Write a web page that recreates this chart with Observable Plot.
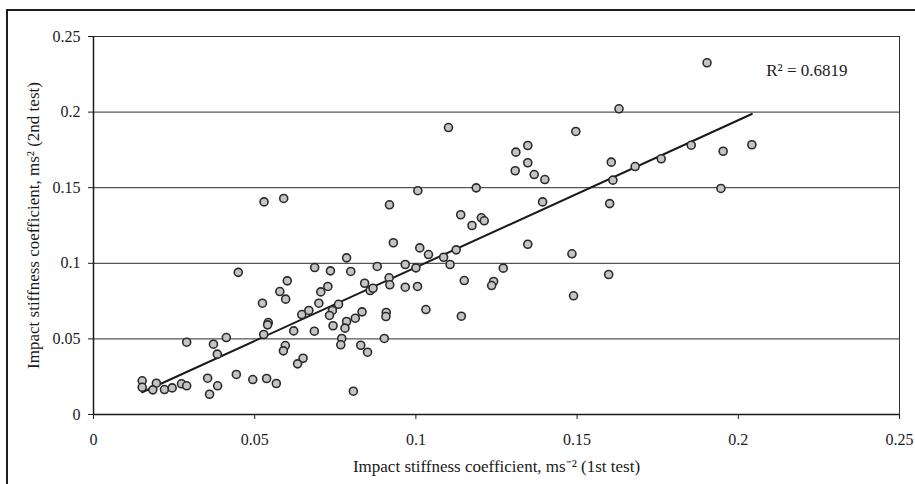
<!DOCTYPE html>
<html>
<head>
<meta charset="utf-8">
<script src="https://cdn.jsdelivr.net/npm/d3@7"></script>
<script src="https://cdn.jsdelivr.net/npm/@observablehq/plot@0.6"></script>
<style>
  html, body { margin: 0; padding: 0; background: #fff; overflow: hidden; }
  #wrap { position: relative; width: 915px; height: 484px; }
  #outer { position: absolute; left: 6px; top: 9px; width: 920px; height: 490px; border: 2px solid #1e1e1e; box-sizing: border-box; }
  #chart { position: absolute; left: 0; top: 0; }
</style>
</head>
<body>
<div id="wrap"><div id="outer"></div><div id="chart"></div></div>
<script>
// Impact stiffness coefficient, 1st test (x) and 2nd test (y)
const firstTest = [
  0.0151, 0.0151, 0.0195, 0.0184, 0.0220, 0.0244, 0.0273, 0.0289, 0.0289, 0.0354,
  0.0360, 0.0385, 0.0372, 0.0384, 0.0412, 0.0443, 0.0449, 0.0494, 0.0524, 0.0537,
  0.0567, 0.0542, 0.0540, 0.0528, 0.0529, 0.0590, 0.0601, 0.0578, 0.0596, 0.0595,
  0.0589, 0.0621, 0.0650, 0.0633, 0.0646, 0.0668, 0.0686, 0.0685, 0.0699, 0.0705,
  0.0727, 0.0735, 0.0741, 0.0732, 0.0743, 0.0760, 0.0785, 0.0798, 0.0785, 0.0780,
  0.0770, 0.0767, 0.0806, 0.0812, 0.0833, 0.0829, 0.0850, 0.0841, 0.0858, 0.0867,
  0.0880, 0.0902, 0.0908, 0.0907, 0.0917, 0.0919, 0.0918, 0.0930, 0.0967, 0.1000,
  0.0967, 0.1005, 0.1006, 0.1012, 0.1039, 0.1031, 0.1086, 0.1106, 0.1125, 0.1101,
  0.1139, 0.1141, 0.1150, 0.1174, 0.1187, 0.1203, 0.1212, 0.1241, 0.1235, 0.1271,
  0.1308, 0.1310, 0.1347, 0.1347, 0.1347, 0.1367, 0.1393, 0.1400, 0.1484, 0.1489,
  0.1496, 0.1598, 0.1601, 0.1606, 0.1611, 0.1630, 0.1680, 0.1761, 0.1854, 0.1903,
  0.1946, 0.1953, 0.2042
];
const secondTest = [
  0.0223, 0.0180, 0.0207, 0.0163, 0.0165, 0.0176, 0.0203, 0.0190, 0.0478, 0.0240,
  0.0134, 0.0190, 0.0465, 0.0399, 0.0509, 0.0265, 0.0940, 0.0231, 0.0736, 0.0238,
  0.0205, 0.0608, 0.0593, 0.0529, 0.1406, 0.1429, 0.0884, 0.0813, 0.0763, 0.0456,
  0.0421, 0.0553, 0.0372, 0.0335, 0.0661, 0.0688, 0.0972, 0.0551, 0.0736, 0.0811,
  0.0847, 0.0950, 0.0688, 0.0655, 0.0587, 0.0729, 0.1036, 0.0946, 0.0615, 0.0571,
  0.0503, 0.0461, 0.0154, 0.0637, 0.0679, 0.0458, 0.0412, 0.0868, 0.0820, 0.0835,
  0.0979, 0.0503, 0.0675, 0.0648, 0.0904, 0.0858, 0.1387, 0.1136, 0.0992, 0.0970,
  0.0842, 0.0847, 0.1480, 0.1102, 0.1058, 0.0694, 0.1040, 0.0992, 0.1089, 0.1898,
  0.1321, 0.0650, 0.0886, 0.1250, 0.1499, 0.1301, 0.1281, 0.0880, 0.0853, 0.0968,
  0.1612, 0.1735, 0.1779, 0.1665, 0.1126, 0.1587, 0.1406, 0.1554, 0.1063, 0.0785,
  0.1872, 0.0926, 0.1395, 0.1669, 0.1550, 0.2022, 0.1640, 0.1691, 0.1781, 0.2326,
  0.1495, 0.1741, 0.1784
];
const tickValues = [0, 0.05, 0.1, 0.15, 0.2, 0.25];
const tickLabels = ["0", "0.05", "0.1", "0.15", "0.2", "0.25"];
const xTitle = "Impact stiffness coefficient, ms\u207B\u00B2 (1st test)";
const yTitle = "Impact stiffness coefficient, ms\u00B2 (2nd test)";
const rSquaredText = "R\u00B2 = 0.6819";

const points = firstTest.map((x, i) => ({x, y: secondTest[i]}));
const fmt = d => tickLabels[tickValues.indexOf(d)];

// Trend line: least squares through the origin, spanning the data's x extent
const slope = d3.sum(points, p => p.x * p.y) / d3.sum(points, p => p.x * p.x);
const trend = d3.extent(firstTest).map(x => ({x, y: slope * x}));

const chart = Plot.plot({
  width: 915,
  height: 484,
  marginLeft: 93,
  marginRight: 16,
  marginTop: 36,
  marginBottom: 70,
  style: {fontFamily: "'Liberation Serif', 'Times New Roman', serif", fontSize: "16px", color: "#1a1a1a", background: "transparent"},
  x: {domain: [0, 0.25]},
  y: {domain: [0, 0.25]},
  marks: [
    Plot.ruleY(tickValues, {stroke: "#2a2a2a", strokeWidth: 1}),
    Plot.frame({stroke: "#333", strokeWidth: 1}),
    Plot.ruleX([0], {stroke: "#1a1a1a", strokeWidth: 1.5}),
    Plot.ruleY([0], {stroke: "#1a1a1a", strokeWidth: 1.5}),
    Plot.axisX({ticks: tickValues, tickFormat: fmt, tickSize: 5, tickPadding: 14, label: null, stroke: "#1a1a1a", fontSize: 16}),
    Plot.axisY({ticks: tickValues, tickFormat: fmt, tickSize: 5, tickPadding: 8, label: null, stroke: "#1a1a1a", fontSize: 16}),
    Plot.line(trend, {x: "x", y: "y", stroke: "#1a1a1a", strokeWidth: 2}),
    Plot.dot(points, {x: "x", y: "y", r: 4, fill: "#c4c4c4", stroke: "#2a2a2a", strokeWidth: 1.6}),
    Plot.text([rSquaredText], {frameAnchor: "top-right", dx: -52, dy: 27, textAnchor: "end", fontSize: 17, fill: "#1a1a1a"}),
    Plot.text([xTitle], {frameAnchor: "bottom", dy: 57, fontSize: 17, fill: "#1a1a1a"}),
    Plot.text([yTitle], {frameAnchor: "left", dx: -60, rotate: -90, textAnchor: "middle", fontSize: 17, fill: "#1a1a1a"})
  ]
});
document.getElementById("chart").appendChild(chart);
</script>
</body>
</html>
